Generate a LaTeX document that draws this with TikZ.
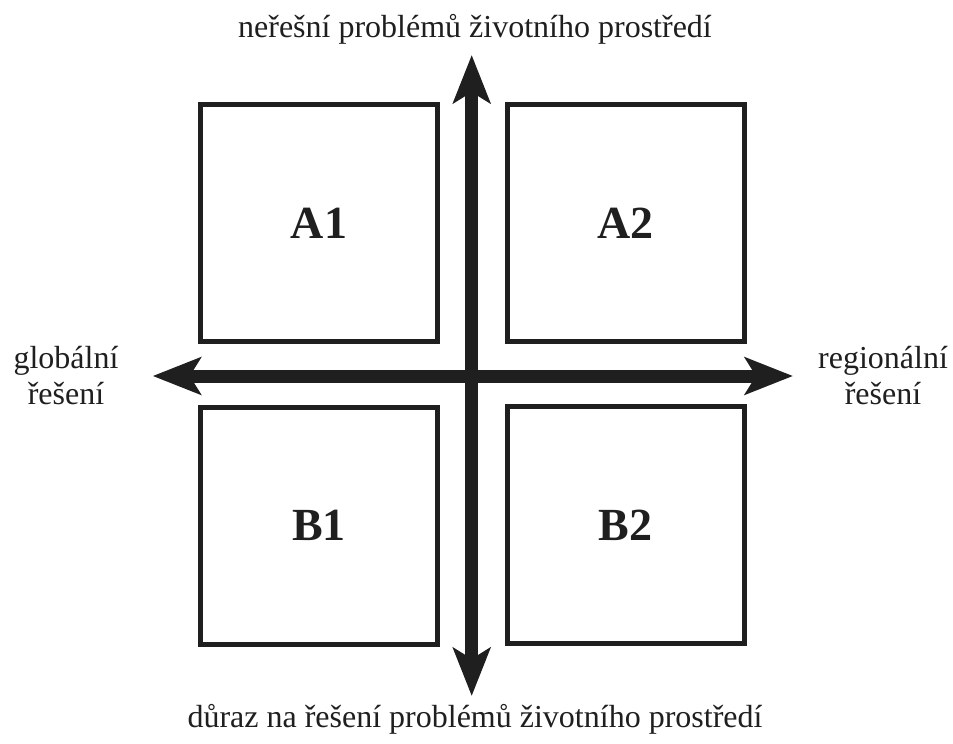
\documentclass[tikz,border=0pt]{standalone}
\usepackage{fontspec}
\setmainfont{Liberation Serif}
\usetikzlibrary{arrows.meta}
\begin{document}
\begin{tikzpicture}[x=1pt,y=-1pt,
  quad/.style={draw=black!88, line width=5pt, minimum width=237pt, minimum height=237pt, inner sep=0pt, font=\fontsize{46}{50}\selectfont\bfseries, text=black!88},
  axislabel/.style={font=\fontsize{32}{36}\selectfont, align=center, text=black!88, inner sep=0pt},
  axis/.style={draw=black!88, line width=13pt, {Stealth[length=48pt,width=37pt,inset=11pt]}-{Stealth[length=48pt,width=37pt,inset=11pt]}}
]
\useasboundingbox[fill=white] (0,0) rectangle (953,744);
\node[quad] (A1) at (319,223) {A1};
\node[quad] (A2) at (625.5,223) {A2};
\node[quad] (B1) at (319,525.5) {B1};
\node[quad] (B2) at (625.5,525) {B2};
\coordinate (N) at (471.7,55);
\coordinate (S) at (471.7,696);
\coordinate (W) at (152.7,376);
\coordinate (E) at (793,376);
\draw[axis] (S) -- (N);
\draw[axis] (W) -- (E);
\node[axislabel] (top) at (475,29) {neřešní problémů životního prostředí};
\node[axislabel] (bottom) at (475,719) {důraz na řešení problémů životního prostředí};
\node[axislabel] (left) at (66,376) {globální\\řešení};
\node[axislabel] (right) at (883,376) {regionální\\řešení};
\end{tikzpicture}
\end{document}
